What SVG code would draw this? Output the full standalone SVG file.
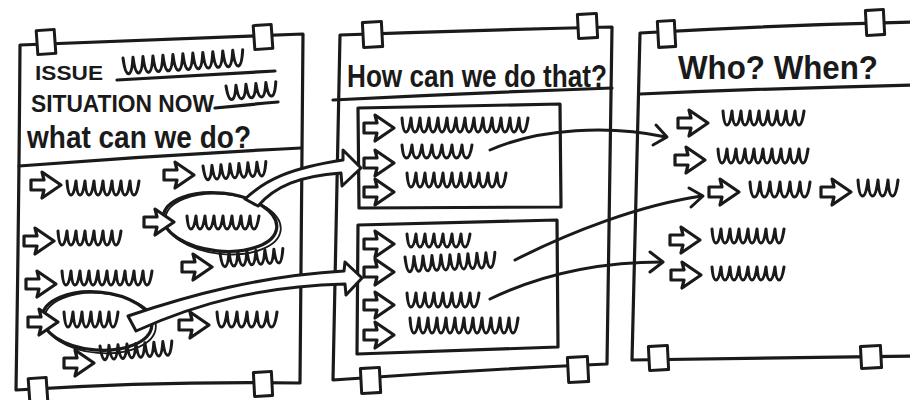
<svg xmlns="http://www.w3.org/2000/svg" width="910" height="400" viewBox="0 0 910 400">
<defs>
<style>
.ln{fill:none;stroke:#1a1a1a;stroke-width:3.2;stroke-linecap:round;stroke-linejoin:round}
.fr{fill:#fff;stroke:#1a1a1a;stroke-width:3.2;stroke-linecap:round;stroke-linejoin:round}
.sq{fill:none;stroke:#1a1a1a;stroke-width:3;stroke-linecap:round;stroke-linejoin:round}
.el2{fill:none;stroke:#1a1a1a;stroke-width:1.8}
.tp{fill:#fff;stroke:#1a1a1a;stroke-width:3;stroke-linejoin:round}
.tx{font-family:"Liberation Sans",Arial,sans-serif;font-weight:700;fill:#1a1a1a}
.th{fill:none;stroke:#1a1a1a;stroke-width:3;stroke-linecap:round;stroke-linejoin:round}
.ba{fill:#fff;stroke:#1a1a1a;stroke-width:3;stroke-linejoin:round}
</style>
<path id="ha" class="fr" d="M0,-5 L13,-5 L11,-13 L30,0 L11,13 L13,5 L0,5 Z"/>
</defs>

<g id="panel-what">
<path class="fr" d="M20,45 Q160,40 303,34 Q301,200 300,383 Q160,381 16,390 Q19,200 20,45 Z"/>
<path class="ln" d="M19,166 Q160,155 301,148"/>
<rect class="tp" x="37" y="30" width="18" height="24" transform="rotate(-4 46 42)"/>
<rect class="tp" x="254" y="25" width="18" height="24" transform="rotate(-4 263 37)"/>
<rect class="tp" x="29" y="378" width="18" height="24" transform="rotate(-4 38 390)"/>
<rect class="tp" x="254" y="372" width="18" height="24" transform="rotate(-3 263 384)"/>
<text class="tx" x="35" y="80" font-size="20" textLength="68" lengthAdjust="spacingAndGlyphs">ISSUE</text>
<text class="tx" x="31" y="112" font-size="23" textLength="183" lengthAdjust="spacingAndGlyphs">SITUATION NOW</text>
<text class="tx" x="27" y="148" font-size="32" textLength="224" lengthAdjust="spacingAndGlyphs">what can we do?</text>
<path class="ln" d="M117,80 Q200,75 275,71"/>
<path class="ln" d="M215,108 Q245,105 278,102"/>
<path class="sq" transform="rotate(-4 123 58)" d="M123,58 q1,16 4.5,16 3.5,0 5.5,-16 1,16 4.5,16 3.5,0 5.5,-16 1,16 4.5,16 3.5,0 5.5,-16 1,16 4.5,16 3.5,0 5.5,-16 1,16 4.5,16 3.5,0 5.5,-16 1,16 4.5,16 3.5,0 5.5,-16 1,16 4.5,16 3.5,0 5.5,-16 1,16 4.5,16 3.5,0 5.5,-16 1,16 4.5,16 3.5,0 5.5,-16 1,16 4.5,16 3.5,0 5.5,-16 1,16 4.5,16 3.5,0 5.5,-16 1,16 4.5,16 3.5,0 5.5,-16"/>
<path class="sq" transform="rotate(-5 226 86)" d="M226,86 q1,14 4.5,14 3.5,0 5.5,-14 1,14 4.5,14 3.5,0 5.5,-14 1,14 4.5,14 3.5,0 5.5,-14 1,14 4.5,14 3.5,0 5.5,-14 1,14 4.5,14 3.5,0 5.5,-14"/>
<ellipse class="ln" cx="220" cy="222" rx="57" ry="29" transform="rotate(6 220 222)"/>
<ellipse class="el2" cx="223" cy="224" rx="58" ry="30" transform="rotate(6 223 224)"/>
<ellipse class="ln" cx="97" cy="321" rx="55" ry="29" transform="rotate(5 97 321)"/>
<ellipse class="el2" cx="100" cy="323" rx="56" ry="30" transform="rotate(5 100 323)"/>
<path class="sq" d="M67,181 q1,14 4,14 3,0 5,-14 1,14 4,14 3,0 5,-14 1,14 4,14 3,0 5,-14 1,14 4,14 3,0 5,-14 1,14 4,14 3,0 5,-14 1,14 4,14 3,0 5,-14 1,14 4,14 3,0 5,-14 1,14 4,14 3,0 5,-14"/>
<path class="sq" transform="rotate(-4 203 166)" d="M203,166 q1,14 4,14 3,0 5,-14 1,14 4,14 3,0 5,-14 1,14 4,14 3,0 5,-14 1,14 4,14 3,0 5,-14 1,14 4,14 3,0 5,-14 1,14 4,14 3,0 5,-14 1,14 4,14 3,0 5,-14"/>
<path class="sq" d="M187,216 q1,13 4,13 3,0 5,-13 1,13 4,13 3,0 5,-13 1,13 4,13 3,0 5,-13 1,13 4,13 3,0 5,-13 1,13 4,13 3,0 5,-13 1,13 4,13 3,0 5,-13 1,13 4,13 3,0 5,-13 1,13 4,13 3,0 5,-13"/>
<path class="sq" d="M58,231 q1,14 4,14 3,0 5,-14 1,14 4,14 3,0 5,-14 1,14 4,14 3,0 5,-14 1,14 4,14 3,0 5,-14 1,14 4,14 3,0 5,-14 1,14 4,14 3,0 5,-14 1,14 4,14 3,0 5,-14"/>
<path class="sq" transform="rotate(-4 220 253)" d="M220,253 q1,14 4,14 3,0 5,-14 1,14 4,14 3,0 5,-14 1,14 4,14 3,0 5,-14 1,14 4,14 3,0 5,-14 1,14 4,14 3,0 5,-14 1,14 4,14 3,0 5,-14 1,14 4,14 3,0 5,-14"/>
<path class="sq" d="M62,271 q1,14 4,14 3,0 5,-14 1,14 4,14 3,0 5,-14 1,14 4,14 3,0 5,-14 1,14 4,14 3,0 5,-14 1,14 4,14 3,0 5,-14 1,14 4,14 3,0 5,-14 1,14 4,14 3,0 5,-14 1,14 4,14 3,0 5,-14 1,14 4,14 3,0 5,-14 1,14 4,14 3,0 5,-14"/>
<path class="sq" d="M64,312 q1,15 4,15 3,0 5,-15 1,15 4,15 3,0 5,-15 1,15 4,15 3,0 5,-15 1,15 4,15 3,0 5,-15 1,15 4,15 3,0 5,-15 1,15 4,15 3,0 5,-15"/>
<path class="sq" d="M217,312 q1,15 4.5,15 3.5,0 5.5,-15 1,15 4.5,15 3.5,0 5.5,-15 1,15 4.5,15 3.5,0 5.5,-15 1,15 4.5,15 3.5,0 5.5,-15 1,15 4.5,15 3.5,0 5.5,-15 1,15 4.5,15 3.5,0 5.5,-15"/>
<path class="sq" transform="rotate(-4 100 346)" d="M100,346 q1,14 4,14 3,0 5,-14 1,14 4,14 3,0 5,-14 1,14 4,14 3,0 5,-14 1,14 4,14 3,0 5,-14 1,14 4,14 3,0 5,-14 1,14 4,14 3,0 5,-14 1,14 4,14 3,0 5,-14 1,14 4,14 3,0 5,-14"/>
<use href="#ha" x="31" y="185"/>
<use href="#ha" x="164" y="175"/>
<use href="#ha" x="144" y="222"/>
<use href="#ha" x="24" y="241"/>
<use href="#ha" x="182" y="267"/>
<use href="#ha" x="26" y="284"/>
<use href="#ha" x="28" y="322"/>
<use href="#ha" x="179" y="325"/>
<use href="#ha" x="64" y="363"/>
</g>

<g id="panel-how">
<path class="fr" d="M340,35 Q480,30 612,27 Q609,200 607,364 Q470,370 333,380 Q336,200 340,35 Z"/>
<path class="ln" d="M333,100 Q470,93 612,88"/>
<rect class="tp" x="363" y="22" width="19" height="25" transform="rotate(-3 372 34)"/>
<rect class="tp" x="578" y="14" width="19" height="24" transform="rotate(-3 587 26)"/>
<rect class="tp" x="361" y="368" width="19" height="25" transform="rotate(-3 370 380)"/>
<rect class="tp" x="568" y="357" width="20" height="25" transform="rotate(-3 578 369)"/>
<text class="tx" x="347" y="87" font-size="32" textLength="260" lengthAdjust="spacingAndGlyphs">How can we do that?</text>
<path class="ln" d="M358,108 L560,104 L561,207 L359,208 Z"/>
<path class="ln" d="M358,225 L557,220 L558,347 L357,354 Z"/>
<path class="sq" d="M402,118 q1,14 4,14 3,0 5,-14 1,14 4,14 3,0 5,-14 1,14 4,14 3,0 5,-14 1,14 4,14 3,0 5,-14 1,14 4,14 3,0 5,-14 1,14 4,14 3,0 5,-14 1,14 4,14 3,0 5,-14 1,14 4,14 3,0 5,-14 1,14 4,14 3,0 5,-14 1,14 4,14 3,0 5,-14 1,14 4,14 3,0 5,-14 1,14 4,14 3,0 5,-14 1,14 4,14 3,0 5,-14 1,14 4,14 3,0 5,-14"/>
<path class="sq" d="M402,145 q1,13 4.5,13 3.5,0 5.5,-13 1,13 4.5,13 3.5,0 5.5,-13 1,13 4.5,13 3.5,0 5.5,-13 1,13 4.5,13 3.5,0 5.5,-13 1,13 4.5,13 3.5,0 5.5,-13 1,13 4.5,13 3.5,0 5.5,-13 1,13 4.5,13 3.5,0 5.5,-13"/>
<path class="sq" d="M407,173 q1,14 4,14 3,0 5,-14 1,14 4,14 3,0 5,-14 1,14 4,14 3,0 5,-14 1,14 4,14 3,0 5,-14 1,14 4,14 3,0 5,-14 1,14 4,14 3,0 5,-14 1,14 4,14 3,0 5,-14 1,14 4,14 3,0 5,-14 1,14 4,14 3,0 5,-14 1,14 4,14 3,0 5,-14 1,14 4,14 3,0 5,-14"/>
<path class="sq" d="M407,234 q1,13 4,13 3,0 5,-13 1,13 4,13 3,0 5,-13 1,13 4,13 3,0 5,-13 1,13 4,13 3,0 5,-13 1,13 4,13 3,0 5,-13 1,13 4,13 3,0 5,-13 1,13 4,13 3,0 5,-13"/>
<path class="sq" transform="rotate(-3 405 257)" d="M405,257 q1,15 4,15 3,0 5,-15 1,15 4,15 3,0 5,-15 1,15 4,15 3,0 5,-15 1,15 4,15 3,0 5,-15 1,15 4,15 3,0 5,-15 1,15 4,15 3,0 5,-15 1,15 4,15 3,0 5,-15 1,15 4,15 3,0 5,-15 1,15 4,15 3,0 5,-15 1,15 4,15 3,0 5,-15"/>
<path class="sq" d="M407,293 q1,14 4,14 3,0 5,-14 1,14 4,14 3,0 5,-14 1,14 4,14 3,0 5,-14 1,14 4,14 3,0 5,-14 1,14 4,14 3,0 5,-14 1,14 4,14 3,0 5,-14 1,14 4,14 3,0 5,-14 1,14 4,14 3,0 5,-14"/>
<path class="sq" d="M410,318 q1,15 4,15 3,0 5,-15 1,15 4,15 3,0 5,-15 1,15 4,15 3,0 5,-15 1,15 4,15 3,0 5,-15 1,15 4,15 3,0 5,-15 1,15 4,15 3,0 5,-15 1,15 4,15 3,0 5,-15 1,15 4,15 3,0 5,-15 1,15 4,15 3,0 5,-15 1,15 4,15 3,0 5,-15 1,15 4,15 3,0 5,-15 1,15 4,15 3,0 5,-15"/>
<use href="#ha" x="364" y="128"/>
<use href="#ha" x="364" y="163"/>
<use href="#ha" x="364" y="192"/>
<use href="#ha" x="364" y="244"/>
<use href="#ha" x="364" y="272"/>
<use href="#ha" x="364" y="305"/>
<use href="#ha" x="364" y="335"/>
</g>

<g id="panel-who">
<path class="fr" d="M640,33 Q780,25 915,22 L915,356 Q770,358 632,360 Q636,200 640,33 Z"/>
<path class="ln" d="M640,94 Q780,88 912,85"/>
<rect class="tp" x="658" y="21" width="17" height="26" transform="rotate(-3 666 34)"/>
<rect class="tp" x="866" y="10" width="18" height="25" transform="rotate(-3 875 22)"/>
<rect class="tp" x="649" y="346" width="19" height="24" transform="rotate(-3 658 358)"/>
<rect class="tp" x="861" y="346" width="20" height="22" transform="rotate(-3 871 357)"/>
<text class="tx" x="678" y="79" font-size="34" textLength="200" lengthAdjust="spacingAndGlyphs">Who? When?</text>
<path class="sq" d="M723,111 q1,14 4,14 3,0 5,-14 1,14 4,14 3,0 5,-14 1,14 4,14 3,0 5,-14 1,14 4,14 3,0 5,-14 1,14 4,14 3,0 5,-14 1,14 4,14 3,0 5,-14 1,14 4,14 3,0 5,-14 1,14 4,14 3,0 5,-14 1,14 4,14 3,0 5,-14"/>
<path class="sq" d="M718,149 q1,14 4,14 3,0 5,-14 1,14 4,14 3,0 5,-14 1,14 4,14 3,0 5,-14 1,14 4,14 3,0 5,-14 1,14 4,14 3,0 5,-14 1,14 4,14 3,0 5,-14 1,14 4,14 3,0 5,-14 1,14 4,14 3,0 5,-14 1,14 4,14 3,0 5,-14 1,14 4,14 3,0 5,-14"/>
<path class="sq" d="M750,182 q1,15 4.5,15 3.5,0 5.5,-15 1,15 4.5,15 3.5,0 5.5,-15 1,15 4.5,15 3.5,0 5.5,-15 1,15 4.5,15 3.5,0 5.5,-15 1,15 4.5,15 3.5,0 5.5,-15 1,15 4.5,15 3.5,0 5.5,-15"/>
<path class="sq" d="M858,180 q1,16 4.5,16 3.5,0 5.5,-16 1,16 4.5,16 3.5,0 5.5,-16 1,16 4.5,16 3.5,0 5.5,-16 1,16 4.5,16 3.5,0 5.5,-16"/>
<path class="sq" d="M712,229 q1,14 4,14 3,0 5,-14 1,14 4,14 3,0 5,-14 1,14 4,14 3,0 5,-14 1,14 4,14 3,0 5,-14 1,14 4,14 3,0 5,-14 1,14 4,14 3,0 5,-14 1,14 4,14 3,0 5,-14 1,14 4,14 3,0 5,-14"/>
<path class="sq" d="M712,267 q1,13 4,13 3,0 5,-13 1,13 4,13 3,0 5,-13 1,13 4,13 3,0 5,-13 1,13 4,13 3,0 5,-13 1,13 4,13 3,0 5,-13 1,13 4,13 3,0 5,-13 1,13 4,13 3,0 5,-13 1,13 4,13 3,0 5,-13"/>
<use href="#ha" x="678" y="123"/>
<use href="#ha" x="675" y="160"/>
<use href="#ha" x="709" y="192"/>
<use href="#ha" x="821" y="192"/>
<use href="#ha" x="670" y="240"/>
<use href="#ha" x="671" y="275"/>
</g>

<g id="connectors">
<path class="ba" d="M245,199 C265,180 290,168 343,160 L343,150 L361,168 L342,186 L341,173 C300,176 275,186 258,206 Z"/>
<path class="ba" d="M128,316 C190,295 260,276 344,271 L345,262 L362,278 L346,295 L345,284 C265,286 200,302 136,331 Z"/>
<path class="th" d="M490,150 C540,128 610,125 666,137"/>
<path class="th" d="M656,125 L667,137 L653,145"/>
<path class="th" d="M515,260 C570,232 640,205 702,196"/>
<path class="th" d="M689,188 L703,196 L691,207"/>
<path class="th" d="M490,299 C540,275 600,262 662,262"/>
<path class="th" d="M650,252 L663,262 L650,272"/>
</g>
</svg>
